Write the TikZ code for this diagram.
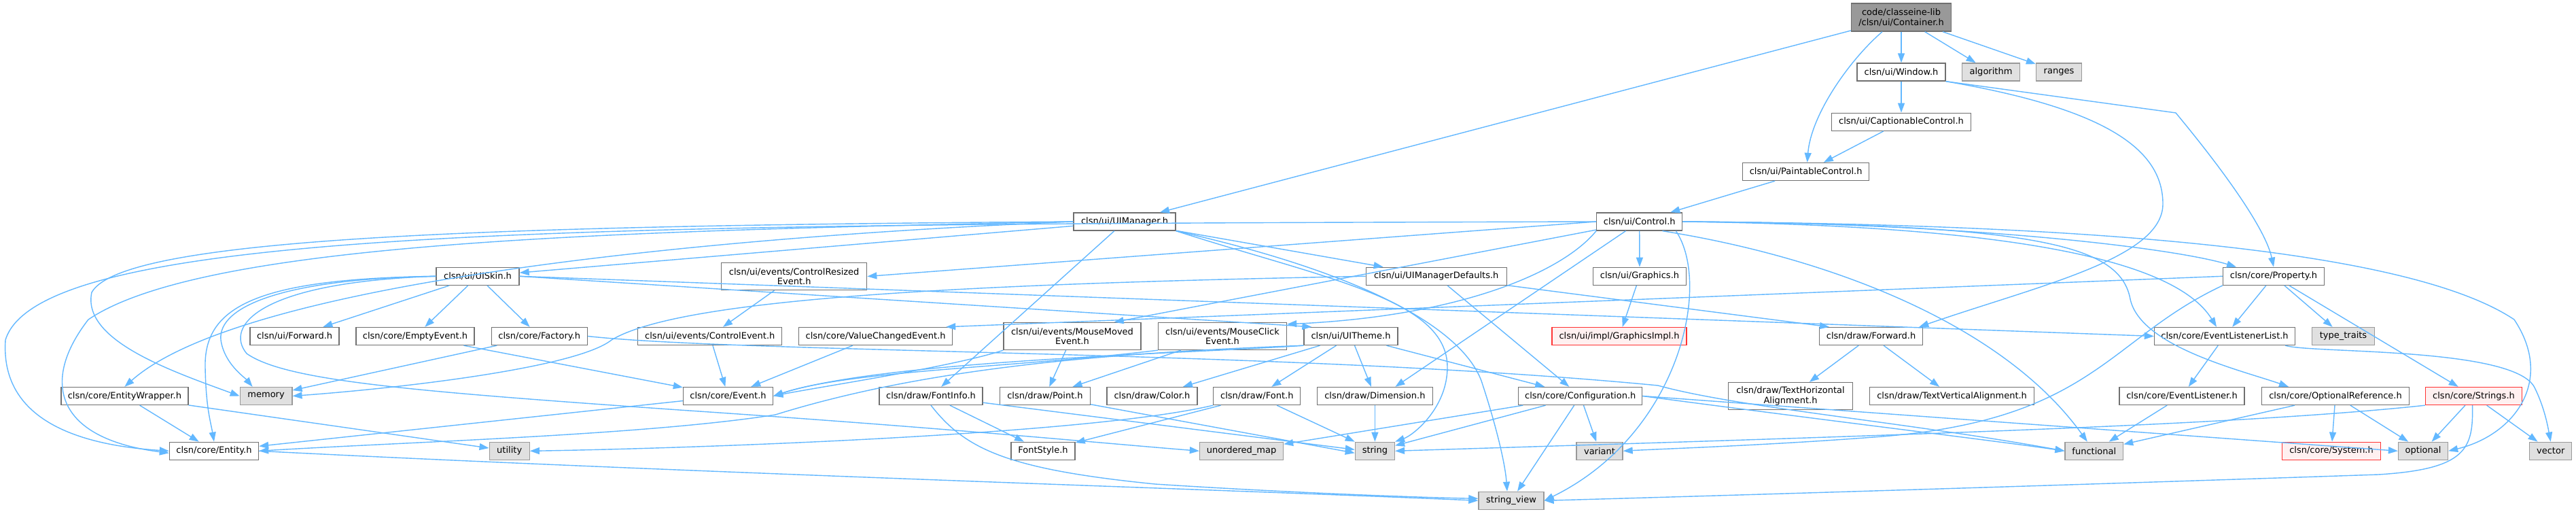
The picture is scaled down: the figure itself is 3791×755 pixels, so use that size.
\documentclass[tikz,border=0pt]{standalone}
\usepackage{fontspec}
\setmainfont{DejaVu Sans}
\usetikzlibrary{arrows.meta}
\definecolor{edgeblue}{HTML}{63B8FF}
\definecolor{sysfill}{HTML}{E0E0E0}
\definecolor{sysdraw}{HTML}{999999}
\definecolor{nddraw}{HTML}{707070}
\definecolor{rootfill}{HTML}{999999}
\definecolor{badfill}{HTML}{FFF0F0}
\definecolor{baddraw}{HTML}{FF3333}
\tikzset{
  nd/.style={draw=nddraw, line width=1.35pt, fill=white, minimum height=26pt, inner sep=2pt, align=center, text=black, font=\fontsize{13}{14.5}\selectfont},
  twoline/.style={minimum height=40pt},
  sys/.style={nd, fill=sysfill, draw=sysdraw},
  badnode/.style={nd, fill=badfill, draw=baddraw},
  rootnode/.style={nd, fill=rootfill, draw=nddraw},
  dep/.style={draw=edgeblue, line width=1.4pt, -{Triangle[length=14pt,width=10pt]}}
}
\begin{document}
\begin{tikzpicture}[x=1pt,y=-1pt]
\useasboundingbox[fill=white] (0,0) rectangle (3791,755);
% row 0
\node[rootnode, twoline, minimum height=41pt, minimum width=147pt] (container) at (2798,25.5) {code/classeine-lib\\/clsn/ui/Container.h};
% row 1
\node[nd, minimum width=130pt] (window) at (2798,106) {clsn/ui/Window.h};
\node[sys, minimum width=85pt] (algorithm) at (2930,106) {algorithm};
\node[sys, minimum width=67pt] (ranges) at (3030,106) {ranges};
\node[nd, minimum width=205pt] (captionable) at (2798,179.3) {clsn/ui/CaptionableControl.h};
\node[nd, minimum width=186pt] (paintable) at (2657.6,252.5) {clsn/ui/PaintableControl.h};
\node[nd, minimum width=126pt] (control) at (2412.7,326) {clsn/ui/Control.h};
\node[nd, minimum width=150pt] (uimanager) at (1655,326) {clsn/ui/UIManager.h};
% row at 406
\node[nd, minimum width=122pt] (uiskin) at (703,406.3) {clsn/ui/UISkin.h};
\node[nd, twoline, minimum width=214pt] (ctrlresized) at (1168.7,406.5) {clsn/ui/events/ControlResized\\Event.h};
\node[nd, minimum width=207pt] (uimgrdefaults) at (2113.7,406.3) {clsn/ui/UIManagerDefaults.h};
\node[nd, minimum width=137pt] (graphics) at (2413,406.3) {clsn/ui/Graphics.h};
\node[nd, minimum width=149pt] (property) at (3346,406.3) {clsn/core/Property.h};
% row at 494
\node[nd, minimum width=131pt] (uiforward) at (433.6,494.5) {clsn/ui/Forward.h};
\node[nd, minimum width=174pt] (emptyevent) at (611,494.5) {clsn/core/EmptyEvent.h};
\node[nd, minimum width=141pt] (factory) at (793.7,494.5) {clsn/core/Factory.h};
\node[nd, minimum width=212pt] (ctrlevent) at (1044.8,494.5) {clsn/ui/events/ControlEvent.h};
\node[nd, minimum width=226pt] (valuechanged) at (1288.6,494.5) {clsn/core/ValueChangedEvent.h};
\node[nd, twoline, minimum width=202pt] (mousemoved) at (1578,494.5) {clsn/ui/events/MouseMoved\\Event.h};
\node[nd, twoline, minimum width=189pt] (mouseclick) at (1799,494.5) {clsn/ui/events/MouseClick\\Event.h};
\node[nd, minimum width=138pt] (uitheme) at (1988,494.5) {clsn/ui/UITheme.h};
\node[badnode, minimum width=198pt] (graphicsimpl) at (2383,494.5) {clsn/ui/impl/GraphicsImpl.h};
\node[nd, minimum width=152pt] (drawforward) at (2753.6,494.5) {clsn/draw/Forward.h};
\node[nd, minimum width=207pt] (evlistenerlist) at (3274,494.5) {clsn/core/EventListenerList.h};
\node[sys, minimum width=92pt] (typetraits) at (3448.5,494.5) {type\_traits};
% row at 582
\node[nd, minimum width=187pt] (entitywrapper) at (183.4,582.5) {clsn/core/EntityWrapper.h};
\node[sys, minimum width=76.5pt] (memory) at (391.6,582.5) {memory};
\node[nd, minimum width=132pt] (event) at (1071.5,582.5) {clsn/core/Event.h};
\node[nd, minimum width=152pt] (fontinfo) at (1370,582.5) {clsn/draw/FontInfo.h};
\node[nd, minimum width=133pt] (point) at (1538,582.5) {clsn/draw/Point.h};
\node[nd, minimum width=133pt] (color) at (1695.5,582.5) {clsn/draw/Color.h};
\node[nd, minimum width=128pt] (font) at (1849.8,582.5) {clsn/draw/Font.h};
\node[nd, minimum width=170pt] (dimension) at (2023.4,582.5) {clsn/draw/Dimension.h};
\node[nd, minimum width=182pt] (configuration) at (2325.7,582.5) {clsn/core/Configuration.h};
\node[nd, twoline, minimum width=182.5pt] (texthoriz) at (2635,582.5) {clsn/draw/TextHorizontal\\Alignment.h};
\node[nd, minimum width=242pt] (textvert) at (2872.6,582.5) {clsn/draw/TextVerticalAlignment.h};
\node[nd, minimum width=184pt] (evlistener) at (3211,582.5) {clsn/core/EventListener.h};
\node[nd, minimum width=217pt] (optionalref) at (3437,582.5) {clsn/core/OptionalReference.h};
\node[badnode, minimum width=142pt] (strings) at (3640.5,582.5) {clsn/core/Strings.h};
% row at 663
\node[nd, minimum width=131pt] (entity) at (315,663.3) {clsn/core/Entity.h};
\node[sys, minimum width=59pt] (utility) at (749.7,663.3) {utility};
\node[nd, minimum width=94pt] (fontstyle) at (1535,663.3) {FontStyle.h};
\node[sys, minimum width=123pt] (unorderedmap) at (1827,663.3) {unordered\_map};
\node[sys, minimum width=58pt] (string) at (2023.4,663.3) {string};
\node[sys, minimum width=68pt] (variant) at (2354,663.3) {variant};
\node[sys, minimum width=85.5pt] (functional) at (3081.8,663.3) {functional};
\node[badnode, minimum width=145pt] (system) at (3431,663.3) {clsn/core/System.h};
\node[sys, minimum width=73pt] (optional) at (3566,663.3) {optional};
\node[sys, minimum width=62pt] (vector) at (3753.7,663.3) {vector};
% bottom
\node[sys, minimum width=96pt] (stringview) at (2224,736.3) {string\_view};

% ---- edges ----
\draw[dep] (container) -- (uimanager);
\draw[dep] ([xshift=-28pt]container.south) .. controls (2720,90) and (2665,170) .. ([xshift=2pt]paintable.north);
\draw[dep] (container) -- (window);
\draw[dep] (container) -- (algorithm);
\draw[dep] (container) -- (ranges);
\draw[dep] (window) -- (captionable);
\draw[dep] (window.south east) -- (3202,166) .. controls (3280,260) and (3335,340) .. (property.north);
\draw[dep] (window.south east) .. controls (3100,160) and (3183,220) .. (3183,300) .. controls (3183,380) and (3000,420) .. ([xshift=-6pt]drawforward.north east);
\draw[dep] (captionable) -- (paintable);
\draw[dep] (paintable) -- (control);
% Control.h
\draw[dep] (control.west) -- (ctrlresized.east);
\draw[dep] (control) -- ([xshift=-40pt]mousemoved.north east);
\draw[dep] (control.south west) .. controls (2300,400) and (2150,465) .. ([yshift=-3pt]mouseclick.north east);
\draw[dep] (control) -- (graphics);
\draw[dep] (control) -- ([xshift=30pt]dimension.north);
\draw[dep] ([xshift=-10pt]control.south east) .. controls (2520,420) and (2470,640) .. (stringview.east);
\draw[dep] ([xshift=-30pt]control.south east) .. controls (2700,380) and (2950,480) .. ([xshift=-10pt]functional.north);
\draw[dep] (control.east) .. controls (2900,328) and (3200,365) .. ([xshift=-55pt]property.north);
\draw[dep] (control.east) .. controls (2950,332) and (3200,380) .. ([xshift=-12pt]evlistenerlist.north);
\draw[dep] (control.east) .. controls (3000,330) and (3120,360) .. (3135,440) .. controls (3150,510) and (3300,545) .. ([xshift=-69pt]optionalref.north);
\draw[dep] (control.east) .. controls (3100,330) and (3550,370) .. (3700,470) .. controls (3760,560) and (3700,640) .. (optional.east);
\draw[dep] (control.west) .. controls (900,330) and (60,330) .. (8,500) .. controls (0,620) and (120,655) .. (entity.west);
% UIManager.h
\draw[dep] (uimanager) -- (uiskin);
\draw[dep] (uimanager) -- (uimgrdefaults);
\draw[dep] (uimanager) -- (fontinfo);
\draw[dep] (uimanager.west) .. controls (900,340) and (300,355) .. (130,470) .. controls (60,560) and (80,645) .. ([yshift=-3pt]entity.west);
\draw[dep] (uimanager.west) .. controls (700,332) and (180,350) .. (135,430) .. controls (120,500) and (250,545) .. (memory.west);
\draw[dep] (uimanager.west) .. controls (1000,350) and (350,420) .. (entitywrapper.north);
\draw[dep] (uimanager.south east) .. controls (1950,410) and (2130,440) .. (2130,540) .. controls (2130,600) and (2080,640) .. (string.north east);
\draw[dep] (uimanager.south east) .. controls (2000,400) and (2150,480) .. (2180,560) .. controls (2200,620) and (2215,680) .. ([xshift=-6pt]stringview.north);
% UISkin.h
\draw[dep] (uiskin) -- (uiforward);
\draw[dep] (uiskin) -- (emptyevent);
\draw[dep] (uiskin) -- (factory);
\draw[dep] (uiskin.west) .. controls (420,410) and (320,450) .. (325,500) .. controls (330,535) and (360,555) .. ([xshift=-20pt]memory.north);
\draw[dep] (uiskin.west) .. controls (380,410) and (300,450) .. (302,540) .. controls (303,600) and (310,620) .. (entity.north);
\draw[dep] (uiskin.west) .. controls (380,415) and (330,480) .. (363,520) .. controls (420,560) and (600,575) .. (1000,603) .. controls (1400,630) and (1600,650) .. (unorderedmap.west);
\draw[dep] (uiskin.east) -- ([xshift=12pt]uitheme.north west);
\draw[dep] (uiskin.east) -- (evlistenerlist.west);
% events
\draw[dep] (ctrlresized) -- (ctrlevent);
\draw[dep] (ctrlevent) -- (event);
\draw[dep] (valuechanged) -- (event);
\draw[dep] (emptyevent) -- (event);
\draw[dep] (mousemoved) -- (point);
\draw[dep] (mousemoved.south west) .. controls (1400,540) and (1200,570) .. (event.east);
\draw[dep] (mouseclick) -- (point);
\draw[dep] (mouseclick.south west) .. controls (1500,540) and (1250,545) .. (event.east);
\draw[dep] (event) -- (entity);
% UITheme.h
\draw[dep] (uitheme.south west) .. controls (1750,520) and (1300,530) .. (event.east);
\draw[dep] (uitheme) -- (color);
\draw[dep] (uitheme) -- (font);
\draw[dep] (uitheme) -- (dimension);
\draw[dep] (uitheme) -- (configuration);
\draw[dep] (uitheme.south west) .. controls (1600,520) and (1350,545) .. (1141,610) .. controls (950,640) and (600,650) .. (entity.east);
% Factory.h
\draw[dep] (factory) -- (memory);
\draw[dep] (factory.east) .. controls (1100,520) and (1900,515) .. (2440,567) .. controls (2560,600) and (2800,620) .. (functional.west);
% draw
\draw[dep] (fontinfo) -- (fontstyle);
\draw[dep] (fontinfo.south) .. controls (1420,660) and (1480,690) .. (1700,712) .. controls (1900,725) and (2100,732) .. ([yshift=3pt]stringview.west);
\draw[dep] (fontinfo) -- ([yshift=2pt]string.west);
\draw[dep] (point) -- ([yshift=-3pt]string.west);
\draw[dep] (font) -- (fontstyle);
\draw[dep] (font.south west) .. controls (1600,640) and (1000,660) .. (utility.east);
\draw[dep] (font) -- (string.north west);
\draw[dep] (dimension) -- (string);
% Configuration.h
\draw[dep] (configuration) -- (unorderedmap);
\draw[dep] (configuration) -- (string);
\draw[dep] (configuration) -- (stringview);
\draw[dep] (configuration) -- (variant);
\draw[dep] (configuration.east) .. controls (2700,620) and (2950,650) .. (functional.west);
\draw[dep] (configuration.east) -- (optional.west);
% UIManagerDefaults.h
\draw[dep] (uimgrdefaults.west) .. controls (1400,418) and (1000,440) .. (900,500) .. controls (850,540) and (600,570) .. (memory.east);
\draw[dep] (uimgrdefaults) -- (configuration);
\draw[dep] (uimgrdefaults) -- ([xshift=15pt]drawforward.north west);
\draw[dep] (graphics) -- (graphicsimpl);
\draw[dep] (drawforward) -- (texthoriz);
\draw[dep] (drawforward) -- (textvert);
% Property.h
\draw[dep] (property.west) -- ([xshift=-10pt]valuechanged.north east);
\draw[dep] (property) -- (evlistenerlist);
\draw[dep] (property) -- (typetraits);
\draw[dep] (property) -- (strings);
\draw[dep] (property.south west) .. controls (3100,500) and (3080,620) .. (2757,643) .. controls (2600,655) and (2450,660) .. (variant.east);
% core
\draw[dep] (evlistenerlist) -- (evlistener);
\draw[dep] ([xshift=-15pt]evlistenerlist.south east) .. controls (3400,520) and (3700,510) .. (3730,570) .. controls (3745,600) and (3750,630) .. (vector.north);
\draw[dep] (evlistener) -- (functional);
\draw[dep] (optionalref) -- (functional);
\draw[dep] (optionalref) -- (system);
\draw[dep] (optionalref) -- (optional);
\draw[dep] (strings) -- (optional);
\draw[dep] (strings) -- (vector);
\draw[dep] (strings.south west) .. controls (3300,625) and (2800,640) .. (string.east);
\draw[dep] ([xshift=-2pt]strings.south) .. controls (3640,660) and (3630,690) .. (3500,698) .. controls (3000,715) and (2500,730) .. (stringview.east);
\draw[dep] (entitywrapper) -- (entity);
\draw[dep] (entitywrapper) -- (utility);
\draw[dep] (entity.east) .. controls (1000,695) and (1800,720) .. (stringview.west);
\end{tikzpicture}
\end{document}
